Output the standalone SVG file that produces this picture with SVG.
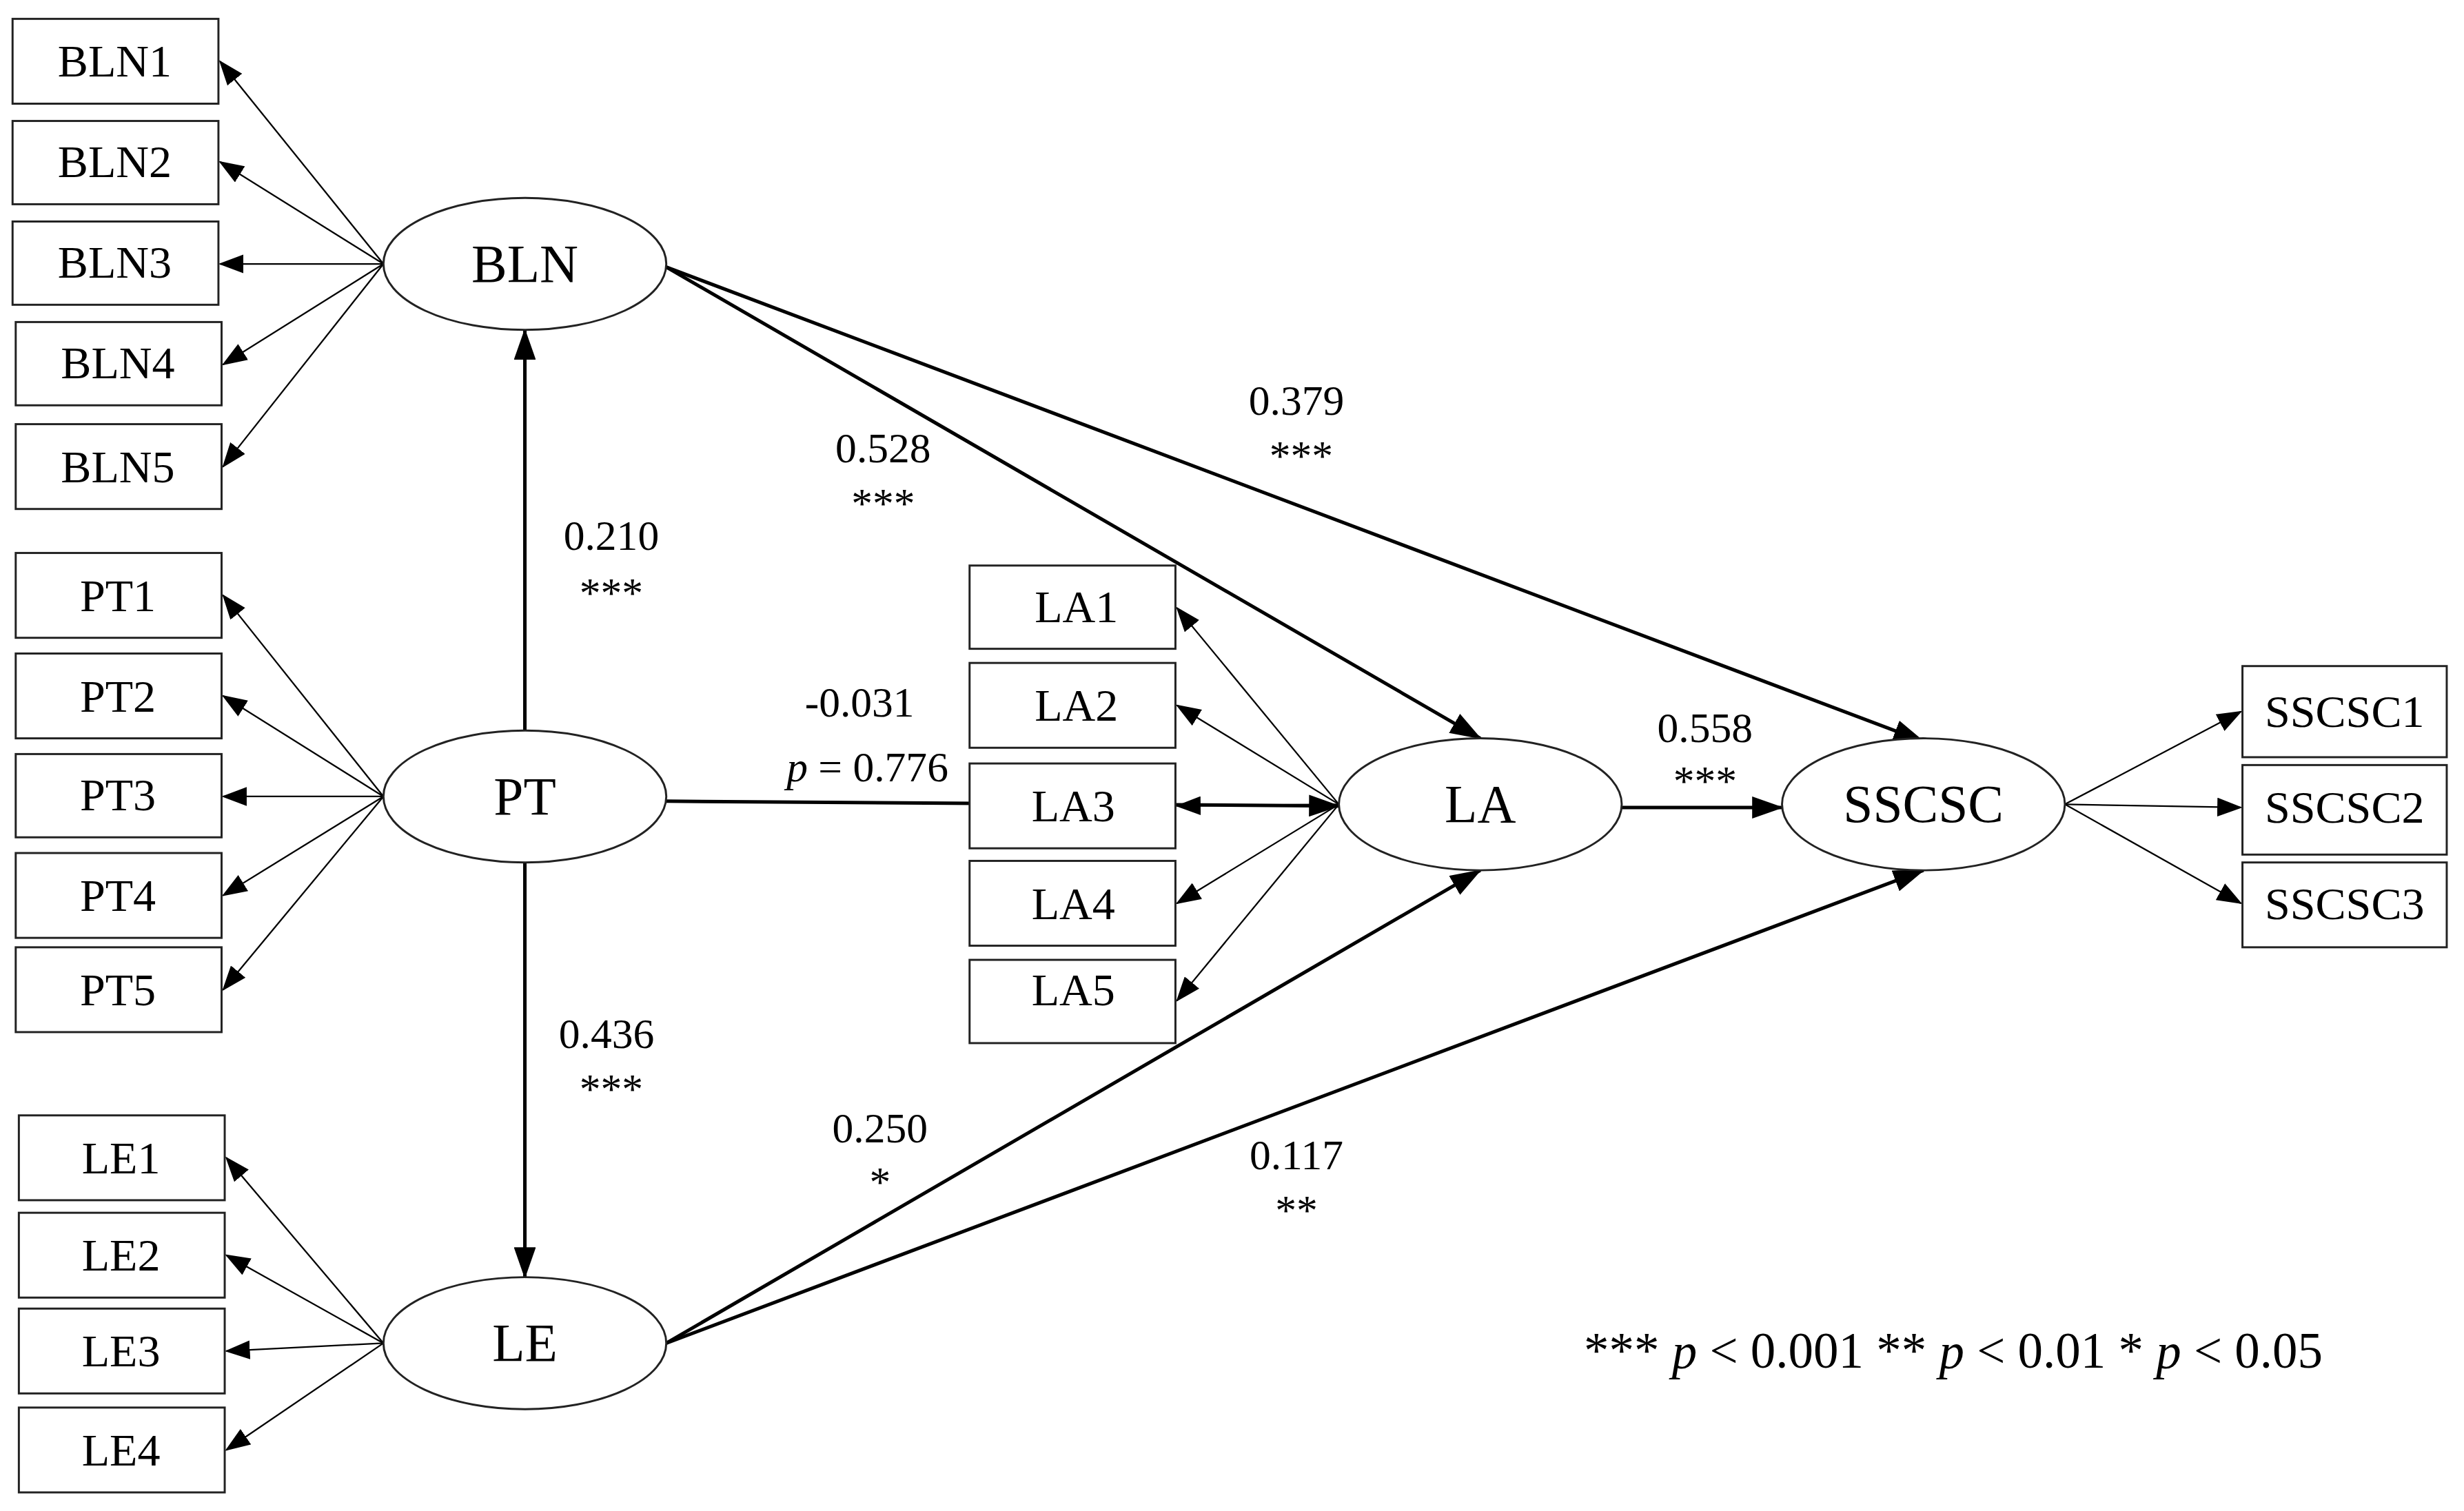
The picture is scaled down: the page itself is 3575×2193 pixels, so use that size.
<svg xmlns="http://www.w3.org/2000/svg" width="3575" height="2193" viewBox="0 0 3575 2193">
<style>
text{font-family:"Liberation Serif","Times New Roman",serif;fill:#000;text-anchor:middle;dominant-baseline:central}
.b rect{fill:#fff;stroke:#222;stroke-width:1.3}
.b text{font-size:29px}
.e ellipse{fill:#fff;stroke:#222;stroke-width:1.3}
.e text{font-size:34px}
.thin{stroke:#000;stroke-width:1;fill:none;marker-end:url(#as)}
.thick{stroke:#000;stroke-width:2.2;fill:none;marker-end:url(#al)}
.lab{font-size:27px}
</style>
<defs>
<marker id="as" markerUnits="userSpaceOnUse" markerWidth="16" markerHeight="12" refX="15" refY="6" orient="auto"><path d="M0,0L16,6L0,12z" fill="#000"/></marker>
<marker id="al" markerUnits="userSpaceOnUse" markerWidth="20" markerHeight="14" refX="19" refY="7" orient="auto"><path d="M0,0L20,7L0,14z" fill="#000"/></marker>
</defs>
<rect width="3575" height="2193" fill="#fff"/>
<g transform="scale(2.28)">
<g id="connectors">
<path class="thin" d="M244,168L140,39"/>
<path class="thin" d="M244,168L140,103"/>
<path class="thin" d="M244,168L140,168"/>
<path class="thin" d="M244,168L142,232"/>
<path class="thin" d="M244,168L142,297"/>
<path class="thin" d="M244,507L142,379"/>
<path class="thin" d="M244,507L142,443"/>
<path class="thin" d="M244,507L142,507"/>
<path class="thin" d="M244,507L142,570"/>
<path class="thin" d="M244,507L142,630"/>
<path class="thin" d="M244,855L144,737"/>
<path class="thin" d="M244,855L144,799"/>
<path class="thin" d="M244,855L144,860"/>
<path class="thin" d="M244,855L144,923"/>
<path class="thin" d="M852,512L749,387"/>
<path class="thin" d="M852,512L749,449"/>
<path class="thin" d="M852,512L749,513"/>
<path class="thin" d="M852,512L749,575"/>
<path class="thin" d="M852,512L749,637"/>
<path class="thin" d="M1314,512L1426,453"/>
<path class="thin" d="M1314,512L1426,514"/>
<path class="thin" d="M1314,512L1426,575"/>
<path class="thick" d="M334,465L334,210"/>
<path class="thick" d="M334,549L334,813"/>
<path class="thick" d="M424,170L942,470"/>
<path class="thick" d="M424,170L1224,472"/>
<path class="thick" d="M424,510L852,513"/>
<path class="thick" d="M424,855L942,554"/>
<path class="thick" d="M424,855L1224,554"/>
<path class="thick" d="M1032,514L1134,514"/>
</g>
<g id="BLN1" class="b"><rect x="8" y="12" width="131" height="54"/><text x="73" y="39">BLN1</text></g>
<g id="BLN2" class="b"><rect x="8" y="77" width="131" height="53"/><text x="73" y="103">BLN2</text></g>
<g id="BLN3" class="b"><rect x="8" y="141" width="131" height="53"/><text x="73" y="167">BLN3</text></g>
<g id="BLN4" class="b"><rect x="10" y="205" width="131" height="53"/><text x="75" y="231">BLN4</text></g>
<g id="BLN5" class="b"><rect x="10" y="270" width="131" height="54"/><text x="75" y="297">BLN5</text></g>
<g id="PT1" class="b"><rect x="10" y="352" width="131" height="54"/><text x="75" y="379">PT1</text></g>
<g id="PT2" class="b"><rect x="10" y="416" width="131" height="54"/><text x="75" y="443">PT2</text></g>
<g id="PT3" class="b"><rect x="10" y="480" width="131" height="53"/><text x="75" y="506">PT3</text></g>
<g id="PT4" class="b"><rect x="10" y="543" width="131" height="54"/><text x="75" y="570">PT4</text></g>
<g id="PT5" class="b"><rect x="10" y="603" width="131" height="54"/><text x="75" y="630">PT5</text></g>
<g id="LE1" class="b"><rect x="12" y="710" width="131" height="54"/><text x="77" y="737">LE1</text></g>
<g id="LE2" class="b"><rect x="12" y="772" width="131" height="54"/><text x="77" y="799">LE2</text></g>
<g id="LE3" class="b"><rect x="12" y="833" width="131" height="54"/><text x="77" y="860">LE3</text></g>
<g id="LE4" class="b"><rect x="12" y="896" width="131" height="54"/><text x="77" y="923">LE4</text></g>
<g id="LA1" class="b"><rect x="617" y="360" width="131" height="53"/><text x="685" y="386">LA1</text></g>
<g id="LA2" class="b"><rect x="617" y="422" width="131" height="54"/><text x="685" y="449">LA2</text></g>
<g id="LA3" class="b"><rect x="617" y="486" width="131" height="54"/><text x="683" y="513">LA3</text></g>
<g id="LA4" class="b"><rect x="617" y="548" width="131" height="54"/><text x="683" y="575">LA4</text></g>
<g id="LA5" class="b"><rect x="617" y="611" width="131" height="53"/><text x="683" y="630">LA5</text></g>
<g id="SSCSC1" class="b"><rect x="1427" y="424" width="130" height="58"/><text x="1492" y="453">SSCSC1</text></g>
<g id="SSCSC2" class="b"><rect x="1427" y="487" width="130" height="57"/><text x="1492" y="514">SSCSC2</text></g>
<g id="SSCSC3" class="b"><rect x="1427" y="549" width="130" height="54"/><text x="1492" y="575">SSCSC3</text></g>
<g id="BLN" class="e"><ellipse cx="334" cy="168" rx="90" ry="42"/><text x="334" y="168">BLN</text></g>
<g id="PT" class="e"><ellipse cx="334" cy="507" rx="90" ry="42"/><text x="334" y="507">PT</text></g>
<g id="LE" class="e"><ellipse cx="334" cy="855" rx="90" ry="42"/><text x="334" y="855">LE</text></g>
<g id="LA" class="e"><ellipse cx="942" cy="512" rx="90" ry="42"/><text x="942" y="512">LA</text></g>
<g id="SSCSC" class="e"><ellipse cx="1224" cy="512" rx="90" ry="42"/><text x="1224" y="512">SSCSC</text></g>
<g id="labels" class="lab">
<text class="lab" x="389" y="341">0.210</text><text class="lab" x="389" y="377">***</text>
<text class="lab" x="562" y="285">0.528</text><text class="lab" x="562" y="320">***</text>
<text class="lab" x="825" y="255">0.379</text><text class="lab" x="828" y="290">***</text>
<text class="lab" x="547" y="447">-0.031</text><text class="lab" x="552" y="488"><tspan font-style="italic">p</tspan> = 0.776</text>
<text class="lab" x="1085" y="463">0.558</text><text class="lab" x="1085" y="497">***</text>
<text class="lab" x="386" y="658">0.436</text><text class="lab" x="389" y="693">***</text>
<text class="lab" x="560" y="718">0.250</text><text class="lab" x="560" y="752">*</text>
<text class="lab" x="825" y="735">0.117</text><text class="lab" x="825" y="770">**</text>
<text x="1243" y="860" style="font-size:32px">*** <tspan font-style="italic">p</tspan> &lt; 0.001    ** <tspan font-style="italic">p</tspan> &lt; 0.01    * <tspan font-style="italic">p</tspan> &lt; 0.05</text>
</g>
</g>
</svg>
